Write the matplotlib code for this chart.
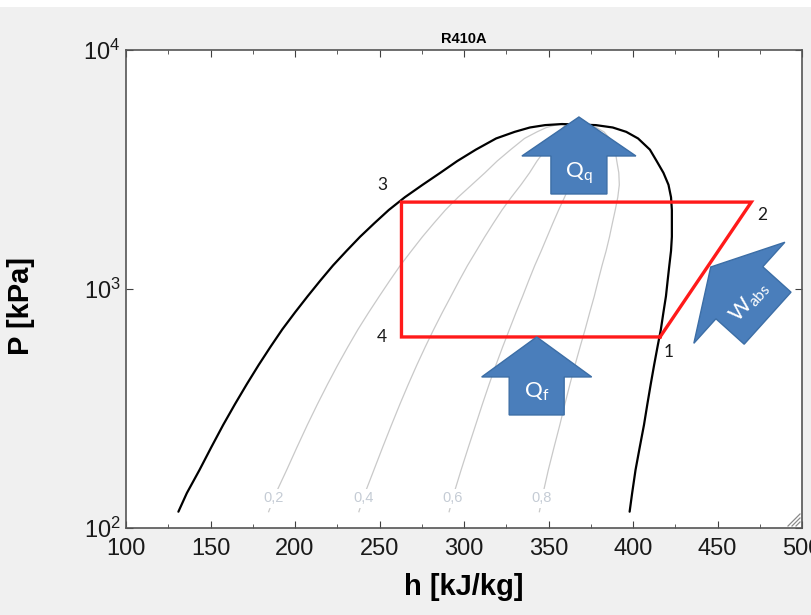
import numpy as np
import matplotlib
matplotlib.use("Agg")
import matplotlib.pyplot as plt
from matplotlib.patches import Polygon, Rectangle
from matplotlib.lines import Line2D
import matplotlib.transforms as mtransforms
from matplotlib.ticker import MultipleLocator, LogLocator, NullLocator

plt.rcParams['font.family'] = ['Liberation Sans', 'DejaVu Sans']
plt.rcParams['mathtext.fontset'] = 'custom'
plt.rcParams['mathtext.rm'] = 'Lato'
plt.rcParams['mathtext.it'] = 'Lato:italic'

# Saturation dome of R410A (pressure in kPa, enthalpy in kJ/kg)
p_sat = [117, 140, 175, 218, 270, 330, 400, 481, 573, 678, 798, 933, 1085,
         1255, 1444, 1654, 1886, 2141, 2421, 2729, 3064, 3430, 3829, 4265,
         4545, 4740, 4850, 4900]
h_liq = [131, 136, 143.5, 150.5, 157.5, 164.5, 171.5, 178.5, 185.5, 192.5,
         200, 207.5, 215, 222.5, 230.5, 238.5, 247, 255.5, 265, 275.5, 286,
         296, 307, 319, 330, 339, 348, 358]
h_vap = [398, 399.5, 401.5, 404, 406.5, 408.5, 410.5, 412.5, 414.5, 416.5,
         418, 419.5, 420.5, 421.5, 422.5, 423, 423, 423, 422.5, 421, 418,
         414, 410, 403, 396, 388, 378, 358]

# Vapour quality isolines
qualities = [0.2, 0.4, 0.6, 0.8]
quality_labels = ['0,2', '0,4', '0,6', '0,8']
p_quality_label = 133

# Refrigeration cycle states 1-2-3-4
cycle_h = [416, 470, 263, 263, 416]
cycle_p = [630, 2310, 2310, 630, 630]
state_names = ['1', '2', '3', '4']

W, H = 811, 615
fig = plt.figure(figsize=(W / 100, H / 100), dpi=100, facecolor='#f0f0f0')
fig.patches.append(Rectangle((0, 1 - 7 / H), 1, 7 / H, transform=fig.transFigure,
                             facecolor='white', edgecolor='none', zorder=-5))
ax_l, ax_b, ax_w, ax_h = 126, 87, 676, 478
ax = fig.add_axes([ax_l / W, ax_b / H, ax_w / W, ax_h / H])
ax.set_facecolor('white')

ax.set_xlim(100, 500)
ax.set_yscale('log')
ax.set_ylim(100, 10000)

# quality lines (lever rule between the saturated states)
hl = np.array(h_liq, dtype=float)
hv = np.array(h_vap, dtype=float)
ps = np.array(p_sat, dtype=float)
for q, lab in zip(qualities, quality_labels):
    hq = hl + q * (hv - hl)
    ax.plot(hq, ps, color='#c9c9c9', lw=0.9, zorder=1)
    hl_lab = np.interp(np.log10(p_quality_label), np.log10(ps), hl)
    hv_lab = np.interp(np.log10(p_quality_label), np.log10(ps), hv)
    ax.text(hl_lab + q * (hv_lab - hl_lab), p_quality_label, lab,
            ha='center', va='center', fontsize=10.5, color='#c5ccd5',
            bbox=dict(boxstyle='square,pad=0.15', fc='white', ec='none'), zorder=2)

# saturated liquid and vapour lines
ax.plot(h_liq, p_sat, color='black', lw=1.6, zorder=3, solid_capstyle='round')
ax.plot(h_vap, p_sat, color='black', lw=1.6, zorder=3, solid_capstyle='round')

# cycle
ax.plot(cycle_h, cycle_p, color='#ff1a1a', lw=2.4, zorder=4, solid_joinstyle='miter')

label_offsets = [(6, -11), (8, -9), (-14, 12), (-14, 0)]
for i, name in enumerate(state_names):
    ax.annotate(name, xy=(cycle_h[i], cycle_p[i]), xytext=label_offsets[i],
                textcoords='offset points', ha='center', va='center',
                fontsize=12.5, family='Lato', color='#1a1a1a', zorder=6)


def block_arrow(tip_h, tip_p, angle, head_len, head_half, shaft_len, shaft_half,
                label, text_off, fontsize, text_rot=0):
    verts = [(0, 0), (head_half, -head_len), (shaft_half, -head_len),
             (shaft_half, -head_len - shaft_len), (-shaft_half, -head_len - shaft_len),
             (-shaft_half, -head_len), (-head_half, -head_len)]
    tr = (mtransforms.Affine2D().rotate_deg(angle)
          + mtransforms.ScaledTranslation(tip_h, tip_p, ax.transData))
    poly = Polygon(verts, closed=True, transform=tr, facecolor='#4a7ebb',
                   edgecolor='#3c6ea6', lw=1.0, zorder=7, clip_on=False)
    ax.add_patch(poly)
    a = np.deg2rad(angle)
    ox, oy = text_off
    rx = ox * np.cos(a) - oy * np.sin(a)
    ry = ox * np.sin(a) + oy * np.cos(a)
    ax.annotate(label, xy=(tip_h, tip_p), xytext=(rx * 0.72, ry * 0.72),
                textcoords='offset points', ha='center', va='center',
                fontsize=fontsize, color='white', rotation=text_rot, zorder=8)


block_arrow(368, 5245, 0, 39, 57, 38, 28, r'$\mathrm{Q_q}$', (0, -56), 16)
block_arrow(343, 630, 0, 40, 55, 38, 27.5, r'$\mathrm{Q_f}$', (0, -55), 16)
block_arrow(446, 1236, 48, 38.5, 68, 38, 35, r'$\mathrm{W_{abs}}$', (0, -52), 16, text_rot=48)

# axes styling
ax.set_title('R410A', fontsize=10.5, fontweight='bold', pad=5)
ax.set_xlabel('h [kJ/kg]', fontsize=21, fontweight='bold')
ax.set_ylabel('P [kPa]', fontsize=21, fontweight='bold')
ax.xaxis.set_label_coords(0.5, -(573 - 528) / ax_h)
ax.yaxis.set_label_coords(-(ax_l - 35) / ax_w, 0.5 - 17 / ax_h)

ax.xaxis.set_major_locator(MultipleLocator(50))
ax.xaxis.set_minor_locator(MultipleLocator(25))
ax.yaxis.set_major_locator(LogLocator(base=10, numticks=5))
ax.yaxis.set_minor_locator(NullLocator())
ax.tick_params(which='both', direction='in', top=True, right=True, colors='#404040',
               labelcolor='#1a1a1a', labelsize=17)
ax.tick_params(axis='x', which='major', length=5, pad=7)
ax.tick_params(axis='y', which='major', length=5, pad=4)
ax.tick_params(which='minor', length=3)
for s in ax.spines.values():
    s.set_color('#555555')
    s.set_linewidth(1.2)

# resize grip in the lower-right corner
cx, cy = ax_l + ax_w, ax_b
for d in (4, 8, 12):
    fig.add_artist(Line2D([(cx - d - 2) / W, (cx - 2) / W], [(cy + 2) / H, (cy + d + 2) / H],
                          transform=fig.transFigure, color='#8a8a8a', lw=0.9, zorder=9))

fig.savefig('out.png', dpi=100, facecolor=fig.get_facecolor())
